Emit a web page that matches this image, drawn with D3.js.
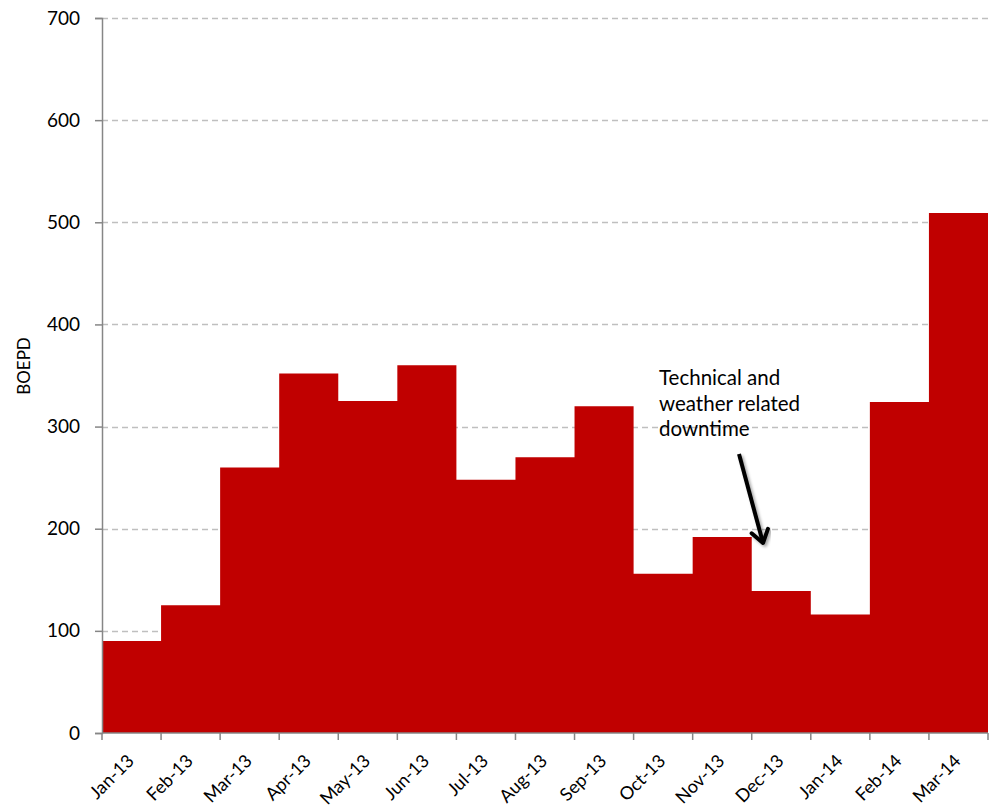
<!DOCTYPE html>
<html lang="en">
<head>
    <meta charset="UTF-8">
    <title>BOEPD by month</title>
    <script src="https://d3js.org/d3.v7.min.js"></script>
    <style>
        body { margin: 0; background: #fff; }
        svg { display: block; }
        svg text { font-family: Lato, "Open Sans", sans-serif; fill: #000; }
    </style>
</head>
<body>
    <svg id="chart"></svg>

    <script>
        // Monthly production
        const months = ["Jan-13", "Feb-13", "Mar-13", "Apr-13", "May-13", "Jun-13", "Jul-13", "Aug-13",
                        "Sep-13", "Oct-13", "Nov-13", "Dec-13", "Jan-14", "Feb-14", "Mar-14"];
        const boepd = [90, 125, 260, 352, 325, 360, 248, 270, 320, 156, 192, 139, 116, 324, 509];
        const yTicks = [0, 100, 200, 300, 400, 500, 600, 700];
        const noteLines = ["Technical and", "weather related", "downtime"];

        const W = 990, H = 810;
        const margin = { top: 18, right: 2, bottom: 77, left: 102 };
        const width = W - margin.left - margin.right;
        const height = H - margin.top - margin.bottom;

        const svg = d3.select("#chart").attr("width", W).attr("height", H);
        const g = svg.append("g").attr("transform", `translate(${margin.left},${margin.top})`);

        const x = d3.scaleBand().domain(months).range([0, width]).padding(0);
        const y = d3.scaleLinear().domain([0, 700]).range([height, 0]);

        // dashed gridlines
        g.append("g")
            .selectAll("line")
            .data(yTicks.filter(d => d > 0))
            .join("line")
            .attr("x1", 0)
            .attr("x2", width)
            .attr("y1", d => Math.round(y(d)) + 0.5)
            .attr("y2", d => Math.round(y(d)) + 0.5)
            .attr("stroke", "#bfbfbf")
            .attr("stroke-width", 1.3)
            .attr("stroke-dasharray", "6,4");

        // step area: each month holds its value until the next month
        const pts = months.map((m, i) => ({ xp: x(m), v: boepd[i] }));
        pts.push({ xp: width, v: boepd[boepd.length - 1] });

        const area = d3.area()
            .curve(d3.curveStepAfter)
            .x(d => d.xp)
            .y0(y(0))
            .y1(d => y(d.v));

        g.append("path")
            .datum(pts)
            .attr("d", area)
            .attr("fill", "#c00000");

        // y axis
        const yAxis = g.append("g")
            .call(d3.axisLeft(y).tickValues(yTicks).tickSize(7).tickPadding(15).tickFormat(d3.format("d")));
        yAxis.select(".domain").attr("stroke", "#868686").attr("stroke-width", 1.5);
        yAxis.selectAll(".tick line").attr("stroke", "#868686").attr("stroke-width", 1.5);
        yAxis.selectAll(".tick text").style("font-size", "19px");

        // x axis: ticks on month boundaries, labels at month centres
        const xAxis = g.append("g").attr("transform", `translate(0,${height})`);
        xAxis.append("line")
            .attr("x1", 0).attr("x2", width)
            .attr("stroke", "#868686").attr("stroke-width", 1.5);
        xAxis.selectAll(".xt")
            .data(months.map(m => x(m)).concat([width]))
            .join("line")
            .attr("class", "xt")
            .attr("x1", d => d).attr("x2", d => d)
            .attr("y1", 0).attr("y2", 7)
            .attr("stroke", "#868686").attr("stroke-width", 1.5);
        xAxis.selectAll(".xl")
            .data(months)
            .join("text")
            .attr("class", "xl")
            .attr("text-anchor", "end")
            .style("font-size", "18px")
            .attr("transform", d => `translate(${x(d) + x.bandwidth() / 2 + 3.5},${29}) rotate(-45)`)
            .text(d => d);

        // y axis title
        svg.append("text")
            .attr("transform", `translate(30,366) rotate(-90)`)
            .attr("text-anchor", "middle")
            .style("font-size", "17px")
            .text("BOEPD");

        // annotation
        const note = svg.append("text")
            .attr("x", 659)
            .attr("y", 385)
            .style("font-size", "20.5px");
        note.selectAll("tspan")
            .data(noteLines)
            .join("tspan")
            .attr("x", 659)
            .attr("dy", (d, i) => i === 0 ? 0 : 25.5)
            .text(d => d);

        const defs = svg.append("defs");
        defs.append("filter").attr("id", "shadow")
            .append("feDropShadow")
            .attr("dx", 2).attr("dy", 2).attr("stdDeviation", 1.5)
            .attr("flood-color", "#000").attr("flood-opacity", 0.35);

        const ax0 = 739, ay0 = 454, ax1 = 763, ay1 = 543;
        const ang = Math.atan2(ay1 - ay0, ax1 - ax0);
        const headLen = 15, headW = 0.6;
        const arrow = svg.append("g").attr("filter", "url(#shadow)");
        arrow.append("line")
            .attr("x1", ax0).attr("y1", ay0)
            .attr("x2", ax1 - Math.cos(ang) * 2).attr("y2", ay1 - Math.sin(ang) * 2)
            .attr("stroke", "#000").attr("stroke-width", 4).attr("stroke-linecap", "butt");
        arrow.append("path")
            .attr("d", `M${ax1 - headLen * Math.cos(ang - headW)},${ay1 - headLen * Math.sin(ang - headW)}` +
                       `L${ax1},${ay1}` +
                       `L${ax1 - headLen * Math.cos(ang + headW)},${ay1 - headLen * Math.sin(ang + headW)}`)
            .attr("fill", "none")
            .attr("stroke", "#000").attr("stroke-width", 4)
            .attr("stroke-linecap", "round").attr("stroke-linejoin", "round");
    </script>
</body>
</html>
